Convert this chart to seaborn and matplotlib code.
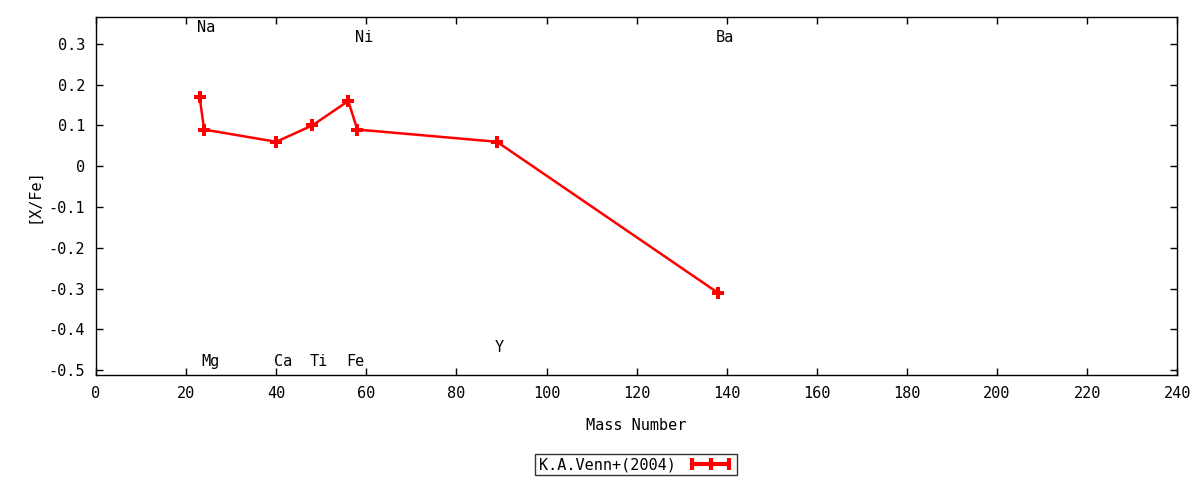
import matplotlib
matplotlib.use("Agg")
import matplotlib.pyplot as plt
from matplotlib.lines import Line2D
import pandas as pd
import seaborn as sns

# abundance pattern, K.A.Venn+(2004)
elements = ['Na', 'Mg', 'Ca', 'Ti', 'Fe', 'Ni', 'Y', 'Ba']
mass_number = [23, 24, 40, 48, 56, 58, 89, 138]
x_fe = [0.17, 0.09, 0.06, 0.10, 0.16, 0.09, 0.06, -0.31]

# where the element names sit
label_x = [24.5, 25.5, 41.5, 49.5, 57.5, 59.5, 89.5, 139.5]
label_y = [0.34, -0.48, -0.48, -0.48, -0.48, 0.315, -0.445, 0.315]

df = pd.DataFrame({'mass': mass_number, 'xfe': x_fe})

sns.set_style("ticks")
plt.rcParams['font.family'] = ['DejaVu Sans Mono', 'DejaVu Sans']
plt.rcParams['font.size'] = 11
plt.rcParams['text.color'] = 'black'
plt.rcParams['axes.labelcolor'] = 'black'
plt.rcParams['xtick.color'] = 'black'
plt.rcParams['ytick.color'] = 'black'

fig = plt.figure(figsize=(12, 4.8), dpi=100)
ax = fig.add_axes([0.08, 0.21875, 0.901, 0.7458])

sns.lineplot(data=df, x='mass', y='xfe', sort=False, color='red', lw=1.8,
             marker='P', markersize=9, markeredgewidth=0, ax=ax, legend=False)

for name, lx, ly in zip(elements, label_x, label_y):
    ax.text(lx, ly, name, ha='center', va='center', fontsize=11, color='black')

ax.set_xlim(0, 240)
ax.set_ylim(-0.512, 0.366)
ax.set_xticks(range(0, 241, 20))
ax.set_yticks([-0.5, -0.4, -0.3, -0.2, -0.1, 0, 0.1, 0.2, 0.3])
ax.set_yticklabels(['-0.5', '-0.4', '-0.3', '-0.2', '-0.1', '0', '0.1', '0.2', '0.3'])
ax.tick_params(direction='in', length=5, width=1, top=True, right=True, labelsize=11, pad=8)
for s in ax.spines.values():
    s.set_linewidth(1)
    s.set_color('black')

ax.set_xlabel('Mass Number', fontsize=11, labelpad=12)
ax.set_ylabel('[X/Fe]', fontsize=11, labelpad=5)

handle = Line2D([], [], color='red', lw=3, marker='|', markersize=9, markeredgewidth=3)
leg = fig.legend([handle], ['K.A.Venn+(2004)'], loc='center', bbox_to_anchor=(0.53, 0.032),
                 numpoints=3, frameon=True, fancybox=False, edgecolor='black',
                 markerfirst=False, handlelength=3, borderpad=0.2, fontsize=11)
leg.get_frame().set_linewidth(1)

fig.savefig('out.png', dpi=100)
